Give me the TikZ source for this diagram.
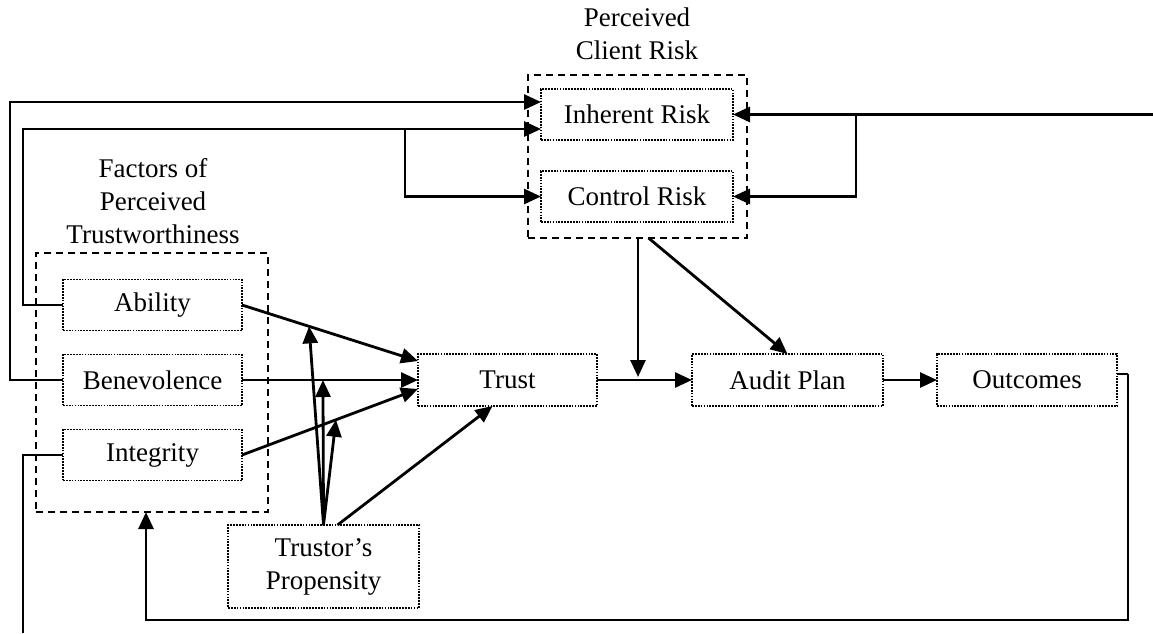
\documentclass[tikz,border=0pt]{standalone}
\usepackage{fontspec}
\setmainfont{Liberation Serif}
\usetikzlibrary{arrows.meta,calc}
\begin{document}
\begin{tikzpicture}[x=1pt,y=-1pt,
  font=\fontsize{27}{33}\selectfont,
  box/.style={draw, line width=1.7pt, dash pattern=on 1.7pt off 1.2pt, inner sep=0pt, outer sep=0pt, align=center, minimum height=51pt},
  grp/.style={draw, line width=2pt, dash pattern=on 7pt off 5pt, inner sep=0pt, outer sep=0pt},
  con/.style={line width=2.8pt},
  thin/.style={line width=2pt},
  arr/.style={con, -{Triangle[length=17pt,width=15pt]}},
  lbl/.style={align=center, inner sep=0pt}
]
\useasboundingbox (0,0) rectangle (1153,633);

% perceived client risk
\node[grp, minimum width=219pt, minimum height=163pt] (pcr) at (637.5,156.5) {};
\node[lbl] (pcrl) at (637,34) {Perceived\\Client Risk};
\node[box, minimum width=192pt] (inh) at (637,114.5) {Inherent Risk};
\node[box, minimum width=192pt] (ctl) at (637,196.5) {Control Risk};

% factors of perceived trustworthiness
\node[grp, minimum width=232pt, minimum height=259pt] (fac) at (152,382.5) {};
\node[lbl] (facl) at (153,201) {Factors of\\Perceived\\Trustworthiness};
\node[box, minimum width=179pt] (abl) at (152.5,305) {Ability};
\node[box, minimum width=179pt] (ben) at (152.5,380) {Benevolence};
\node[box, minimum width=179pt] (int) at (152.5,455) {Integrity};

% main row
\node[box, minimum width=179pt, minimum height=52pt] (tru) at (507.5,380) {Trust};
\node[box, minimum width=191pt, minimum height=52pt] (aud) at (787.5,380) {Audit Plan};
\node[box, minimum width=180pt, minimum height=52pt] (out) at (1027,380) {Outcomes};
\node[box, minimum width=191pt, minimum height=83pt] (tsp) at (323.5,566.5) {Trustor's\\Propensity};

% helper coordinates
\coordinate (L1) at (10,0);
\coordinate (L2) at (23,0);
\coordinate (inhA) at ($(inh.west)+(0,-12.5)$);
\coordinate (inhB) at ($(inh.west)+(0,14.5)$);
\coordinate (br1) at (405,129);
\coordinate (R) at (1153,114.5);
\coordinate (br2) at (856,114.5);
\coordinate (B) at (23,633);
\coordinate (F0) at (1128,374);
\coordinate (F1) at (1128,620);
\coordinate (F2) at (146,620);

% left feedback lines to risk
\draw[arr] (ben.west) -- (ben.west -| L1) -- (L1 |- inhA) -- (inhA);
\draw[arr] (abl.west) -- (abl.west -| L2) -- (L2 |- inhB) -- (inhB);
\draw[arr] (br1) |- (ctl.west);
\draw[thin] (int.west) -| (B);

% right line into risk
\draw[arr] (R) -- (inh.east);
\draw[arr] (br2) |- (ctl.east);

% into trust
\draw[arr] (abl.east) -- coordinate[pos=0.381] (pA) ($(tru.west)+(0,-19)$);
\draw[arr] (ben.east) -- coordinate[pos=0.46] (pB) (tru.west);
\draw[arr] (int.east) -- coordinate[pos=0.534] (pC) ($(tru.west)+(0,9)$);
\draw[arr] (tsp.north) -- (pA);
\draw[arr] (tsp.north) -- (pB);
\draw[arr] (tsp.north) -- (pC);
\draw[arr] ($(tsp.north)+(14,0)$) -- ($(tru.south)+(-15,0)$);

% main flow
\draw[arr] (tru.east) -- (aud.west);
\draw[arr] (aud.east) -- (out.west);
\draw[arr] ($(pcr.south)+(0.5,0)$) -- ($(pcr.south |- tru.east)+(0.5,-3)$);
\draw[arr] ($(pcr.south)+(11,0)$) -- (aud.north);

% outcomes feedback
\draw[thin] ($(out.east)+(0,-6)$) -- (F0);
\draw[arr] (F0) -- (F1) -- (F2) -- (F2 |- fac.south);
\end{tikzpicture}
\end{document}
